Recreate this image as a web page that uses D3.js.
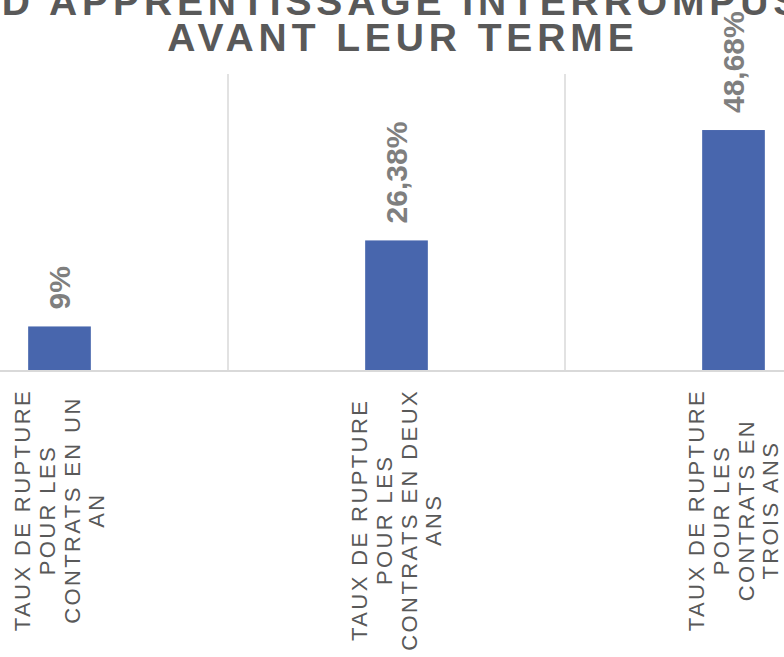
<!DOCTYPE html>
<html>
<head>
<meta charset="utf-8">
<script src="https://cdn.jsdelivr.net/npm/d3@7"></script>
<style>
  body { margin: 0; background: #fff; }
  svg { display: block; font-family: "Liberation Sans", Arial, sans-serif; }
</style>
</head>
<body>
<div id="chart"></div>
<script>
const titleLines = ["D'APPRENTISSAGE INTERROMPUS", "AVANT LEUR TERME"];

const categories = ["un an", "deux ans", "trois ans"];
const categoryLines = [
  ["TAUX DE RUPTURE", "POUR LES", "CONTRATS EN UN", "AN"],
  ["TAUX DE RUPTURE", "POUR LES", "CONTRATS EN DEUX", "ANS"],
  ["TAUX DE RUPTURE", "POUR LES", "CONTRATS EN", "TROIS ANS"]
];
const values = [9, 26.38, 48.68];
const valueLabels = ["9%", "26,38%", "48,68%"];

const width = 784,
  height = 657;

const plot = { left: -109, right: 902, top: 74, bottom: 371 };

const svg = d3
  .select("#chart")
  .append("svg")
  .attr("width", width)
  .attr("height", height);

const xScale = d3
  .scaleBand()
  .domain(categories)
  .range([plot.left, plot.right])
  .padding(0);

const yScale = d3.scaleLinear().domain([0, 60]).range([plot.bottom, plot.top]);

const barWidth = xScale.bandwidth() * 0.186;

// vertical separators between categories
svg
  .append("g")
  .selectAll("line")
  .data(categories.slice(1))
  .enter()
  .append("line")
  .attr("x1", (d) => xScale(d))
  .attr("x2", (d) => xScale(d))
  .attr("y1", plot.top)
  .attr("y2", plot.bottom)
  .attr("stroke", "#d9d9d9")
  .attr("stroke-width", 1.5);

// bars
svg
  .append("g")
  .selectAll("rect")
  .data(values)
  .enter()
  .append("rect")
  .attr("x", (d, i) => xScale(categories[i]) + xScale.bandwidth() / 2 - barWidth / 2)
  .attr("y", (d) => yScale(d))
  .attr("width", barWidth)
  .attr("height", (d) => yScale(0) - yScale(d))
  .attr("fill", "#4866ad");

// baseline
svg
  .append("line")
  .attr("x1", 0)
  .attr("x2", width)
  .attr("y1", yScale(0))
  .attr("y2", yScale(0))
  .attr("stroke", "#d9d9d9")
  .attr("stroke-width", 2);

// data labels
svg
  .append("g")
  .selectAll("text")
  .data(values)
  .enter()
  .append("text")
  .attr("transform", (d, i) => {
    const cx = xScale(categories[i]) + xScale.bandwidth() / 2;
    return "translate(" + cx + "," + (yScale(d) - 17) + ") rotate(-90)";
  })
  .attr("dy", "0.36em")
  .attr("font-size", 30)
  .attr("font-weight", "bold")
  .attr("fill", "#7f7f7f")
  .text((d, i) => valueLabels[i]);

// category labels
const labelG = svg
  .append("g")
  .selectAll("g")
  .data(categories)
  .enter()
  .append("g");

labelG.each(function (cat, i) {
  const g = d3.select(this);
  const lines = categoryLines[i];
  const lineH = 24.7;
  const t = g
    .append("g")
    .attr("transform", "rotate(-90)")
    .attr("font-size", 22)
    .attr("letter-spacing", 2.4)
    .attr("fill", "#595959");
  lines.forEach((ln, j) => {
    t.append("text")
      .attr("x", 0)
      .attr("y", (j - (lines.length - 1) / 2) * lineH)
      .attr("dy", "0.36em")
      .attr("text-anchor", "middle")
      .text(ln);
  });
  const box = g.node().getBBox();
  const cx = xScale(cat) + xScale.bandwidth() / 2;
  g.attr("transform", "translate(" + cx + "," + (389 - box.y) + ")");
});

// title
svg
  .append("g")
  .selectAll("text")
  .data(titleLines)
  .enter()
  .append("text")
  .attr("x", 403)
  .attr("y", (d, i) => 14.5 + i * 36.5)
  .attr("text-anchor", "middle")
  .attr("font-size", 39)
  .attr("font-weight", "bold")
  .attr("letter-spacing", 4.9)
  .attr("fill", "#595959")
  .text((d) => d);
</script>
</body>
</html>
